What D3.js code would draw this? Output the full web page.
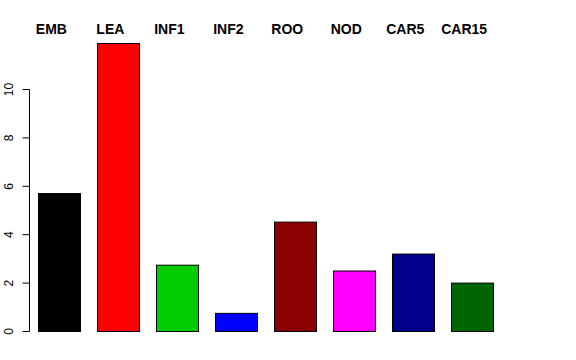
<!DOCTYPE html>
<html><head><meta charset="utf-8">
<script src="https://cdn.jsdelivr.net/npm/d3@7"></script>
<style>body{margin:0;background:#fff}svg{display:block}</style>
</head><body>
<script>
const categories = ["EMB","LEA","INF1","INF2","ROO","NOD","CAR5","CAR15"];
const values = [5.7, 11.9, 2.74, 0.75, 4.52, 2.5, 3.2, 2.0];
const colors = ["#000000","#FF0000","#00CD00","#0000FF","#8B0000","#FF00FF","#00008B","#006400"];
const yTicks = [0,2,4,6,8,10];

const W=576,H=360;
const svg=d3.select("body").append("svg").attr("width",W).attr("height",H);

const x=d3.scaleBand().domain(categories).range([29.9,501.7]).paddingInner(0.2857).paddingOuter(0.1428);
const y=d3.scaleLinear().domain([0,10]).range([331.5,89.5]);

svg.selectAll("rect.bar").data(categories).enter().append("rect")
  .attr("class","bar")
  .attr("x",d=>Math.round(x(d))+0.5)
  .attr("y",(d,i)=>y(values[i]))
  .attr("width",Math.round(x.bandwidth()))
  .attr("height",(d,i)=>y(0)-y(values[i]))
  .attr("fill",(d,i)=>colors[i])
  .attr("stroke","#000").attr("stroke-width",1);

// y axis (R style)
const axX=29.5;
const ax=svg.append("g").attr("transform",`translate(${axX},0)`);
ax.append("line").attr("x1",0).attr("x2",0).attr("y1",y(0)).attr("y2",y(10)).attr("stroke","#000");
ax.selectAll("line.t").data(yTicks).enter().append("line").attr("class","t")
  .attr("x1",0).attr("x2",-7).attr("y1",d=>y(d)).attr("y2",d=>y(d)).attr("stroke","#000");
ax.selectAll("text").data(yTicks).enter().append("text")
  .attr("transform",d=>`translate(${13-axX},${y(d)}) rotate(-90)`)
  .attr("text-anchor","middle")
  .attr("font-family","Liberation Sans, Arial, sans-serif").attr("font-size",12)
  .text(d=>d);

// top labels
svg.selectAll("text.lab").data(categories).enter().append("text").attr("class","lab")
  .attr("x",d=>x(d)+x.bandwidth()/2-8)
  .attr("y",34)
  .attr("text-anchor","middle")
  .attr("font-family","Liberation Sans, Arial, sans-serif").attr("font-weight","bold").attr("font-size",14)
  .text(d=>d);
</script>
</body></html>
